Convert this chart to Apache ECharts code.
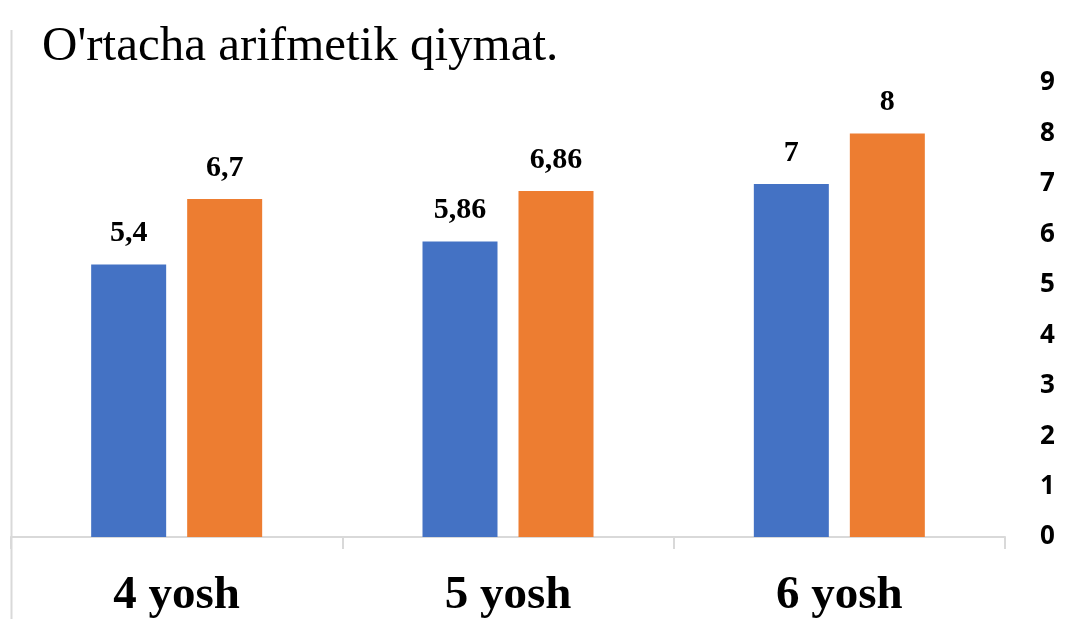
<!DOCTYPE html>
<html>
<head>
<meta charset="utf-8">
<script src="https://cdn.jsdelivr.net/npm/echarts@6/dist/echarts.min.js"></script>
<style>
  html, body { margin: 0; padding: 0; background: #fff; }
  #chart { width: 1072px; height: 619px; }
</style>
</head>
<body>
<div id="chart"></div>
<script>
// values
let categories = ['4 yosh', '5 yosh', '6 yosh'];
let seriesA = [5.4, 5.86, 7];
let seriesB = [6.7, 6.86, 8];
let yTicks = [0, 9, 1]; // min, max, interval

let colorA = '#4472C4';
let colorB = '#ED7D31';

function labelFormatter(p) {
    return String(p.value).replace('.', ',');
}

function barSeries(data, color) {
    return {
        type: 'bar',
        data: data,
        barWidth: 75,
        barGap: '28%',
        itemStyle: { color: color },
        label: {
            show: true,
            position: 'top',
            distance: 16,
            formatter: labelFormatter,
            fontFamily: 'Liberation Serif',
            fontWeight: 'bold',
            fontSize: 30,
            color: '#000'
        }
    };
}

let chart = echarts.init(document.getElementById('chart'));
chart.setOption({
    animation: false,
    graphic: [
        {
            type: 'text',
            left: 42,
            top: 23,
            style: {
                text: "O'rtacha arifmetik qiymat.",
                font: '49px "Liberation Serif"',
                fill: '#000'
            }
        },
        {
            type: 'line',
            shape: { x1: 11.5, y1: 30, x2: 11.5, y2: 619 },
            style: { stroke: '#d9d9d9', lineWidth: 2 }
        }
    ],
    grid: {
        left: 11,
        right: 67,
        top: 83,
        bottom: 78
    },
    xAxis: {
        type: 'category',
        data: categories,
        axisLine: { lineStyle: { color: '#d9d9d9', width: 2 } },
        axisTick: { show: true, length: 12, lineStyle: { color: '#d9d9d9', width: 2 } },
        axisLabel: {
            margin: 35,
            fontFamily: 'Liberation Serif',
            fontWeight: 'bold',
            fontSize: 47,
            color: '#000'
        }
    },
    yAxis: {
        type: 'value',
        position: 'right',
        min: yTicks[0],
        max: yTicks[1],
        interval: yTicks[2],
        splitLine: { show: false },
        axisLine: { show: false },
        axisTick: { show: false },
        axisLabel: {
            margin: 35,
            align: 'left',
            fontFamily: 'Open Sans',
            fontWeight: 'bold',
            fontSize: 26,
            color: '#000'
        }
    },
    series: [
        barSeries(seriesA, colorA),
        barSeries(seriesB, colorB)
    ]
});
</script>
</body>
</html>
